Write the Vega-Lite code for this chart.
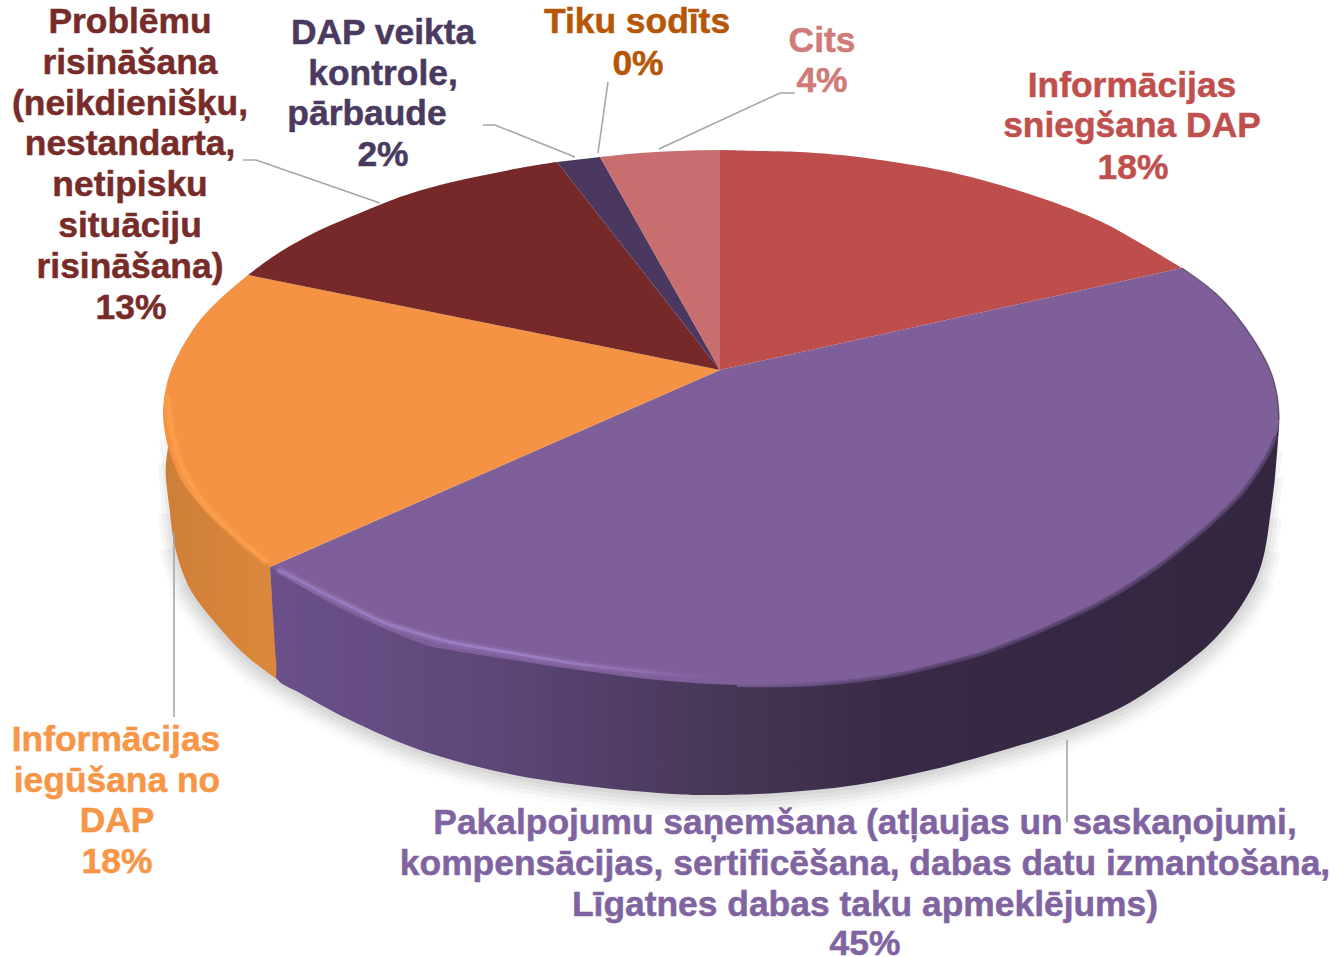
{"$schema":"https://vega.github.io/schema/vega-lite/v6.json","width":1335,"height":957,"padding":0,"autosize":"none","background":"white","view":{"stroke":null},
"datasets":{
"shadow":[{"o":1,"x":163,"y":440},{"o":2,"x":166,"y":463},{"o":3,"x":170,"y":513},{"o":4,"x":175,"y":547},{"o":5,"x":187,"y":583},{"o":6,"x":207,"y":613},{"o":7,"x":243,"y":653},{"o":8,"x":278,"y":680},{"o":9,"x":350,"y":720},{"o":10,"x":420,"y":750},{"o":11,"x":500,"y":772},{"o":12,"x":579,"y":785},{"o":13,"x":658,"y":793},{"o":14,"x":705,"y":795},{"o":15,"x":777,"y":793},{"o":16,"x":856,"y":785},{"o":17,"x":935,"y":769},{"o":18,"x":1014,"y":747},{"o":19,"x":1065,"y":731},{"o":20,"x":1120,"y":708},{"o":21,"x":1160,"y":683},{"o":22,"x":1203,"y":650},{"o":23,"x":1227,"y":625},{"o":24,"x":1243,"y":603},{"o":25,"x":1257,"y":577},{"o":26,"x":1265,"y":550},{"o":27,"x":1270,"y":517},{"o":28,"x":1275,"y":477},{"o":29,"x":1279,"y":450}],
"sideOrange":[{"o":1,"x":270,"y":567},{"o":2,"x":240,"y":500},{"o":3,"x":180,"y":440},{"o":4,"x":166,"y":463},{"o":5,"x":170,"y":513},{"o":6,"x":175,"y":547},{"o":7,"x":187,"y":583},{"o":8,"x":207,"y":613},{"o":9,"x":243,"y":653},{"o":10,"x":278,"y":680}],
"sidePurple":[{"o":1,"x":270,"y":567},{"o":1.5,"x":276,"y":660},{"o":2,"x":278,"y":680},{"o":2.5,"x":300,"y":693},{"o":3,"x":350,"y":720},{"o":4,"x":420,"y":750},{"o":5,"x":500,"y":772},{"o":6,"x":579,"y":785},{"o":7,"x":658,"y":793},{"o":8,"x":705,"y":795},{"o":9,"x":777,"y":793},{"o":10,"x":856,"y":785},{"o":11,"x":935,"y":769},{"o":12,"x":1014,"y":747},{"o":13,"x":1065,"y":731},{"o":14,"x":1120,"y":708},{"o":15,"x":1160,"y":683},{"o":16,"x":1203,"y":650},{"o":17,"x":1227,"y":625},{"o":18,"x":1243,"y":603},{"o":19,"x":1257,"y":577},{"o":20,"x":1265,"y":550},{"o":21,"x":1270,"y":517},{"o":22,"x":1275,"y":477},{"o":23,"x":1279,"y":427},{"o":24,"x":1279,"y":420}],
"faces":[
{"s":"Informācijas sniegšana DAP","o":1,"x":720,"y":370,"c":1},{"s":"Informācijas sniegšana DAP","o":2,"x":720,"y":150,"c":1},{"s":"Informācijas sniegšana DAP","o":3,"x":760,"y":151},{"s":"Informācijas sniegšana DAP","o":4,"x":800,"y":152},{"s":"Informācijas sniegšana DAP","o":5,"x":850,"y":156},{"s":"Informācijas sniegšana DAP","o":6,"x":900,"y":163},{"s":"Informācijas sniegšana DAP","o":7,"x":950,"y":172,"c":1},{"s":"Informācijas sniegšana DAP","o":8,"x":1000,"y":185},{"s":"Informācijas sniegšana DAP","o":9,"x":1050,"y":201},{"s":"Informācijas sniegšana DAP","o":10,"x":1100,"y":221},{"s":"Informācijas sniegšana DAP","o":11,"x":1140,"y":243},{"s":"Informācijas sniegšana DAP","o":12,"x":1182,"y":268,"c":1},
{"s":"Pakalpojumu saņemšana","o":1,"x":720,"y":370,"c":1},{"s":"Pakalpojumu saņemšana","o":2,"x":1182,"y":268,"c":1},{"s":"Pakalpojumu saņemšana","o":3,"x":1213,"y":291},{"s":"Pakalpojumu saņemšana","o":4,"x":1235,"y":314},{"s":"Pakalpojumu saņemšana","o":5,"x":1255,"y":342},{"s":"Pakalpojumu saņemšana","o":6,"x":1270,"y":370},{"s":"Pakalpojumu saņemšana","o":7,"x":1277,"y":395},{"s":"Pakalpojumu saņemšana","o":8,"x":1279,"y":420,"c":1},{"s":"Pakalpojumu saņemšana","o":9,"x":1276,"y":436},{"s":"Pakalpojumu saņemšana","o":10,"x":1267,"y":456},{"s":"Pakalpojumu saņemšana","o":11,"x":1255,"y":475},{"s":"Pakalpojumu saņemšana","o":12,"x":1240,"y":495},{"s":"Pakalpojumu saņemšana","o":13,"x":1220,"y":515},{"s":"Pakalpojumu saņemšana","o":14,"x":1200,"y":533},{"s":"Pakalpojumu saņemšana","o":15,"x":1160,"y":565},{"s":"Pakalpojumu saņemšana","o":16,"x":1107,"y":599},{"s":"Pakalpojumu saņemšana","o":17,"x":1047,"y":628},{"s":"Pakalpojumu saņemšana","o":18,"x":1000,"y":647},{"s":"Pakalpojumu saņemšana","o":19,"x":974,"y":656},{"s":"Pakalpojumu saņemšana","o":20,"x":895,"y":675},{"s":"Pakalpojumu saņemšana","o":21,"x":816,"y":684},{"s":"Pakalpojumu saņemšana","o":22,"x":737,"y":685,"c":1},{"s":"Pakalpojumu saņemšana","o":23,"x":658,"y":680},{"s":"Pakalpojumu saņemšana","o":24,"x":579,"y":670},{"s":"Pakalpojumu saņemšana","o":25,"x":500,"y":658},{"s":"Pakalpojumu saņemšana","o":26,"x":450,"y":650},{"s":"Pakalpojumu saņemšana","o":27,"x":417,"y":642},{"s":"Pakalpojumu saņemšana","o":28,"x":350,"y":613},{"s":"Pakalpojumu saņemšana","o":29,"x":300,"y":586},{"s":"Pakalpojumu saņemšana","o":30,"x":270,"y":567,"c":1},
{"s":"Informācijas iegūšana no DAP","o":1,"x":720,"y":370,"c":1},{"s":"Informācijas iegūšana no DAP","o":2,"x":270,"y":567,"c":1},{"s":"Informācijas iegūšana no DAP","o":3,"x":237,"y":540},{"s":"Informācijas iegūšana no DAP","o":4,"x":207,"y":513},{"s":"Informācijas iegūšana no DAP","o":5,"x":183,"y":483},{"s":"Informācijas iegūšana no DAP","o":6,"x":170,"y":453},{"s":"Informācijas iegūšana no DAP","o":7,"x":165,"y":433},{"s":"Informācijas iegūšana no DAP","o":8,"x":163,"y":413,"c":1},{"s":"Informācijas iegūšana no DAP","o":9,"x":165,"y":393},{"s":"Informācijas iegūšana no DAP","o":10,"x":170,"y":373},{"s":"Informācijas iegūšana no DAP","o":11,"x":178,"y":355},{"s":"Informācijas iegūšana no DAP","o":12,"x":187,"y":339},{"s":"Informācijas iegūšana no DAP","o":13,"x":200,"y":320},{"s":"Informācijas iegūšana no DAP","o":14,"x":220,"y":299},{"s":"Informācijas iegūšana no DAP","o":15,"x":248,"y":275,"c":1},
{"s":"Problēmu risināšana","o":1,"x":720,"y":370,"c":1},{"s":"Problēmu risināšana","o":2,"x":248,"y":275,"c":1},{"s":"Problēmu risināšana","o":3,"x":280,"y":252},{"s":"Problēmu risināšana","o":4,"x":320,"y":230},{"s":"Problēmu risināšana","o":5,"x":360,"y":213},{"s":"Problēmu risināšana","o":6,"x":400,"y":197,"c":1},{"s":"Problēmu risināšana","o":7,"x":440,"y":185},{"s":"Problēmu risināšana","o":8,"x":480,"y":176},{"s":"Problēmu risināšana","o":9,"x":520,"y":168},{"s":"Problēmu risināšana","o":10,"x":557,"y":162,"c":1},
{"s":"DAP veikta kontrole, pārbaude","o":1,"x":720,"y":370,"c":1},{"s":"DAP veikta kontrole, pārbaude","o":2,"x":557,"y":162,"c":1},{"s":"DAP veikta kontrole, pārbaude","o":3,"x":600,"y":157,"c":1},
{"s":"Cits","o":1,"x":720,"y":370,"c":1},{"s":"Cits","o":2,"x":600,"y":157,"c":1},{"s":"Cits","o":3,"x":640,"y":153},{"s":"Cits","o":4,"x":680,"y":151,"c":1},{"s":"Cits","o":5,"x":720,"y":150,"c":1}],
"hlOrange":[{"o":1,"x":168,"y":395},{"o":2,"x":170,"y":420},{"o":3,"x":178,"y":455},{"o":4,"x":190,"y":482},{"o":5,"x":207,"y":507},{"o":6,"x":237,"y":537},{"o":7,"x":267,"y":562}],
"hlPurple":[{"o":1,"x":278,"y":570},{"o":2,"x":293,"y":577},{"o":3,"x":323,"y":593},{"o":4,"x":350,"y":606},{"o":5,"x":383,"y":622},{"o":6,"x":417,"y":633},{"o":7,"x":450,"y":642},{"o":8,"x":500,"y":651},{"o":9,"x":579,"y":664},{"o":10,"x":658,"y":673},{"o":11,"x":720,"y":678}],
"rim":[{"o":1,"x":1182,"y":268},{"o":2,"x":1213,"y":291},{"o":3,"x":1235,"y":314},{"o":4,"x":1255,"y":342},{"o":5,"x":1270,"y":370},{"o":6,"x":1277,"y":395},{"o":7,"x":1279,"y":420}],
"rimLow":[{"o":1,"x":1276,"y":436},{"o":2,"x":1267,"y":456},{"o":3,"x":1255,"y":475},{"o":4,"x":1240,"y":495},{"o":5,"x":1220,"y":515},{"o":6,"x":1200,"y":533},{"o":7,"x":1160,"y":565},{"o":8,"x":1107,"y":599},{"o":9,"x":1047,"y":628},{"o":10,"x":1000,"y":647},{"o":11,"x":974,"y":656},{"o":12,"x":895,"y":675},{"o":13,"x":816,"y":684},{"o":14,"x":737,"y":685}],
"leaders":[{"l":"a","o":1,"x":243,"y":160},{"l":"a","o":2,"x":256,"y":160},{"l":"a","o":3,"x":380,"y":203},{"l":"b","o":1,"x":483,"y":125},{"l":"b","o":2,"x":495,"y":125},{"l":"b","o":3,"x":575,"y":157},{"l":"c","o":1,"x":608,"y":82},{"l":"c","o":2,"x":598,"y":153},{"l":"d","o":1,"x":795,"y":93},{"l":"d","o":2,"x":780,"y":93},{"l":"d","o":3,"x":659,"y":149},{"l":"e","o":1,"x":174,"y":532},{"l":"e","o":2,"x":174,"y":717},{"l":"f","o":1,"x":1067,"y":740},{"l":"f","o":2,"x":1067,"y":822}],
"labels":[
{"s":"Problēmu risināšana","t":"Problēmu","x":130,"y":33},{"s":"Problēmu risināšana","t":"risināšana","x":130,"y":74},{"s":"Problēmu risināšana","t":"(neikdienišķu,","x":130,"y":115},{"s":"Problēmu risināšana","t":"nestandarta,","x":130,"y":155},{"s":"Problēmu risināšana","t":"netipisku","x":130,"y":196},{"s":"Problēmu risināšana","t":"situāciju","x":130,"y":237},{"s":"Problēmu risināšana","t":"risināšana)","x":130,"y":278},{"s":"Problēmu risināšana","t":"13%","x":131,"y":319},
{"s":"DAP veikta kontrole, pārbaude","t":"DAP veikta","x":383,"y":44},{"s":"DAP veikta kontrole, pārbaude","t":"kontrole,","x":383,"y":85},{"s":"DAP veikta kontrole, pārbaude","t":"pārbaude","x":367,"y":125},{"s":"DAP veikta kontrole, pārbaude","t":"2%","x":383,"y":166},
{"s":"Tiku sodīts","t":"Tiku sodīts","x":637,"y":33},{"s":"Tiku sodīts","t":"0%","x":638,"y":75},
{"s":"Cits","t":"Cits","x":822,"y":52},{"s":"Cits","t":"4%","x":822,"y":92},
{"s":"Informācijas sniegšana DAP","t":"Informācijas","x":1132,"y":97},{"s":"Informācijas sniegšana DAP","t":"sniegšana DAP","x":1132,"y":137},{"s":"Informācijas sniegšana DAP","t":"18%","x":1133,"y":179},
{"s":"Informācijas iegūšana no DAP","t":"Informācijas","x":116,"y":751},{"s":"Informācijas iegūšana no DAP","t":"iegūšana no","x":117,"y":792},{"s":"Informācijas iegūšana no DAP","t":"DAP","x":117,"y":832},{"s":"Informācijas iegūšana no DAP","t":"18%","x":117,"y":873},
{"s":"Pakalpojumu saņemšana","t":"Pakalpojumu saņemšana (atļaujas un saskaņojumi,","x":865,"y":834},{"s":"Pakalpojumu saņemšana","t":"kompensācijas, sertificēšana, dabas datu izmantošana,","x":865,"y":875},{"s":"Pakalpojumu saņemšana","t":"Līgatnes dabas taku apmeklējums)","x":865,"y":916},{"s":"Pakalpojumu saņemšana","t":"45%","x":865,"y":955}]
},
"encoding":{
"x":{"field":"x","type":"quantitative","scale":{"domain":[0,1335],"nice":false,"zero":false},"axis":null},
"y":{"field":"y","type":"quantitative","scale":{"domain":[957,0],"nice":false,"zero":false},"axis":null},
"order":{"field":"o","type":"quantitative"}},
"layer":[
{"data":{"name":"shadow"},"transform":[{"filter":"datum.o>=5 && datum.o<=25"}],"mark":{"type":"line","interpolate":"cardinal","stroke":"#000","strokeWidth":42,"opacity":0.02}},
{"data":{"name":"shadow"},"transform":[{"filter":"datum.o>=4 && datum.o<=26"}],"mark":{"type":"line","interpolate":"cardinal","stroke":"#000","strokeWidth":32,"opacity":0.03}},
{"data":{"name":"shadow"},"transform":[{"filter":"datum.o>=3 && datum.o<=27"}],"mark":{"type":"line","interpolate":"cardinal","stroke":"#000","strokeWidth":24,"opacity":0.035}},
{"data":{"name":"shadow"},"transform":[{"filter":"datum.o>=2 && datum.o<=28"}],"mark":{"type":"line","interpolate":"cardinal","stroke":"#000","strokeWidth":16,"opacity":0.035}},
{"data":{"name":"shadow"},"mark":{"type":"line","interpolate":"cardinal","stroke":"#000","strokeWidth":8,"opacity":0.04}},
{"data":{"name":"sideOrange"},"mark":{"type":"line","interpolate":"cardinal","strokeWidth":0,"fill":{"gradient":"linear","x1":0,"x2":1,"y1":0,"y2":0,"stops":[{"offset":0,"color":"#CE7F37"},{"offset":1,"color":"#DC883C"}]}}},
{"data":{"name":"sidePurple"},"mark":{"type":"line","interpolate":"cardinal","strokeWidth":0,"fill":{"gradient":"linear","x1":0,"x2":1,"y1":0,"y2":0,"stops":[{"offset":0,"color":"#6B508A"},{"offset":0.23,"color":"#5D4677"},{"offset":0.43,"color":"#483859"},{"offset":0.62,"color":"#382A46"},{"offset":1,"color":"#33263E"}]}}},
{"data":{"name":"faces"},"transform":[{"filter":"datum.o>=2"}],"mark":{"type":"line","interpolate":"cardinal","strokeWidth":0},"encoding":{"detail":{"field":"s"},"fill":{"field":"s","type":"nominal","legend":null,"scale":{"domain":["Informācijas sniegšana DAP","Pakalpojumu saņemšana","Informācijas iegūšana no DAP","Problēmu risināšana","DAP veikta kontrole, pārbaude","Tiku sodīts","Cits"],"range":["#BD4E4C","#7F5F9A","#F49344","#772828","#4B3860","#B65708","#C96E6E"]}}}},
{"data":{"name":"faces"},"transform":[{"filter":"datum.c==1"}],"mark":{"type":"line","strokeWidth":0},"encoding":{"detail":{"field":"s"},"fill":{"field":"s","type":"nominal","legend":null,"scale":{"domain":["Informācijas sniegšana DAP","Pakalpojumu saņemšana","Informācijas iegūšana no DAP","Problēmu risināšana","DAP veikta kontrole, pārbaude","Tiku sodīts","Cits"],"range":["#BD4E4C","#7F5F9A","#F49344","#772828","#4B3860","#B65708","#C96E6E"]}}}},
{"data":{"name":"hlOrange"},"mark":{"type":"line","interpolate":"cardinal","stroke":"#FBA04E","strokeWidth":8,"opacity":0.45}},
{"data":{"name":"hlOrange"},"mark":{"type":"line","interpolate":"cardinal","stroke":"#FFA24C","strokeWidth":3,"opacity":0.7}},
{"data":{"name":"hlPurple"},"mark":{"type":"line","interpolate":"cardinal","strokeWidth":8,"opacity":0.35,"stroke":{"gradient":"linear","x1":0,"x2":1,"y1":0,"y2":0,"stops":[{"offset":0,"color":"#9A7BC2"},{"offset":0.6,"color":"#9476B8"},{"offset":1,"color":"#7F5F9A"}]}}},
{"data":{"name":"hlPurple"},"mark":{"type":"line","interpolate":"cardinal","strokeWidth":3,"opacity":0.85,"stroke":{"gradient":"linear","x1":0,"x2":1,"y1":0,"y2":0,"stops":[{"offset":0,"color":"#9A7BC2"},{"offset":0.6,"color":"#A283CC"},{"offset":1,"color":"#7F5F9A"}]}}},
{"data":{"name":"rim"},"mark":{"type":"line","interpolate":"cardinal","stroke":"#3B2E4A","strokeWidth":1.5,"opacity":0.6}},
{"data":{"name":"rimLow"},"mark":{"type":"line","interpolate":"cardinal","strokeWidth":4,"opacity":0.8,"stroke":{"gradient":"linear","x1":0,"x2":1,"y1":0,"y2":0,"stops":[{"offset":0,"color":"#7F5F9A"},{"offset":0.35,"color":"#5A4570"},{"offset":1,"color":"#5A4570"}]}}},
{"data":{"name":"leaders"},"mark":{"type":"line","stroke":"#A6A6A6","strokeWidth":1.6},"encoding":{"detail":{"field":"l"}}},
{"data":{"name":"labels"},"mark":{"type":"text","font":"Liberation Sans","fontWeight":"bold","fontSize":35.4,"align":"center","baseline":"alphabetic","strokeWidth":0.5},"encoding":{"order":null,"text":{"field":"t"},"color":{"field":"s","type":"nominal","legend":null,"scale":{"domain":["Informācijas sniegšana DAP","Pakalpojumu saņemšana","Informācijas iegūšana no DAP","Problēmu risināšana","DAP veikta kontrole, pārbaude","Tiku sodīts","Cits"],"range":["#C0504D","#8064A2","#F79646","#772C2A","#4A3A60","#B65708","#CF7B79"]}},"stroke":{"field":"s","type":"nominal","legend":null,"scale":{"domain":["Informācijas sniegšana DAP","Pakalpojumu saņemšana","Informācijas iegūšana no DAP","Problēmu risināšana","DAP veikta kontrole, pārbaude","Tiku sodīts","Cits"],"range":["#C0504D","#8064A2","#F79646","#772C2A","#4A3A60","#B65708","#CF7B79"]}}}}
]}
